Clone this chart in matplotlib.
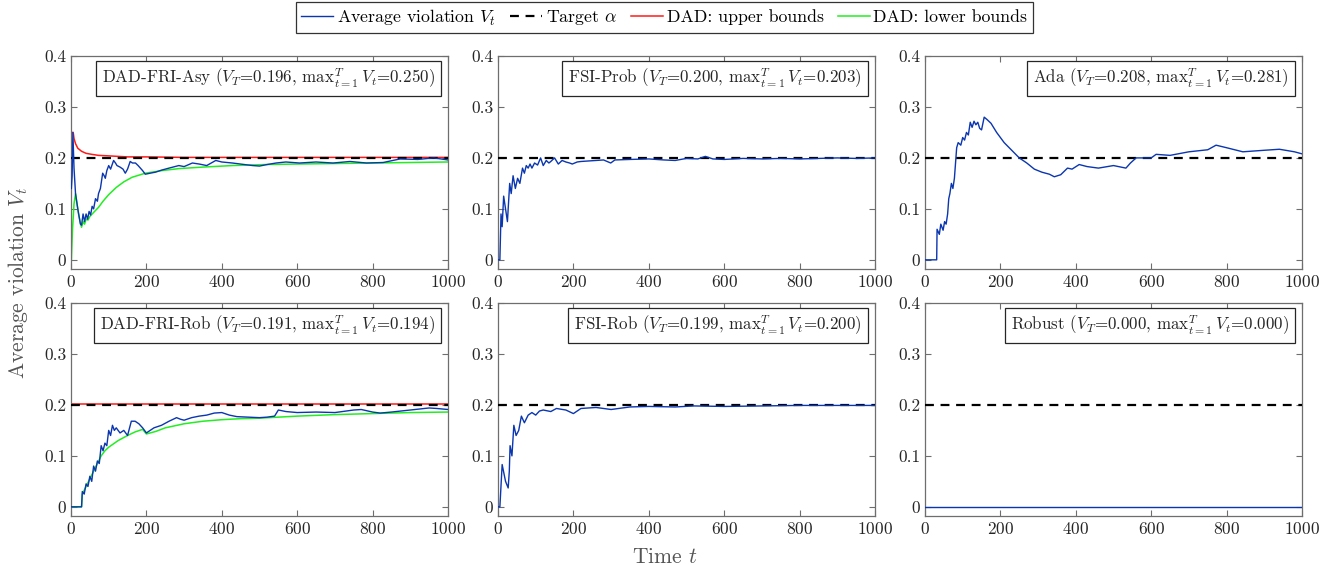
import matplotlib
matplotlib.use('Agg')
import matplotlib.pyplot as plt
from matplotlib.lines import Line2D

plt.rcParams['font.family'] = ['cmr10', 'DejaVu Serif']
plt.rcParams['mathtext.fontset'] = 'cm'
plt.rcParams['axes.formatter.use_mathtext'] = True

alpha = 0.2
names = ['DAD-FRI-Asy', 'FSI-Prob', 'Ada', 'DAD-FRI-Rob', 'FSI-Rob', 'Robust']
v_final = ['0.196', '0.200', '0.208', '0.191', '0.199', '0.000']
v_max = ['0.250', '0.203', '0.281', '0.194', '0.200', '0.000']

# DAD-FRI-Asy
asy_t = [1, 3, 5, 8, 12, 18, 25, 28, 32, 36, 40, 44, 48, 52, 56, 60, 65, 70, 73, 78, 84, 88, 91, 95,
         100, 105, 113, 118, 122, 130, 138, 144, 150, 157, 163, 171, 178, 184, 190, 197, 210, 224,
         240, 260, 286, 300, 322, 340, 360, 384, 400, 428, 460, 482, 500, 520, 544, 570, 606, 650,
         695, 740, 784, 828, 873, 920, 962, 1000]
asy_v = [0.14, 0.165, 0.25, 0.18, 0.13, 0.10, 0.07, 0.068, 0.09, 0.075, 0.09, 0.08, 0.095, 0.088,
         0.105, 0.10, 0.12, 0.115, 0.13, 0.14, 0.17, 0.165, 0.16, 0.175, 0.185, 0.178, 0.195, 0.19,
         0.185, 0.182, 0.178, 0.17, 0.178, 0.193, 0.19, 0.19, 0.185, 0.18, 0.175, 0.168, 0.17, 0.172,
         0.176, 0.18, 0.185, 0.183, 0.19, 0.188, 0.185, 0.195, 0.192, 0.19, 0.187, 0.185, 0.184,
         0.187, 0.19, 0.192, 0.19, 0.192, 0.19, 0.193, 0.19, 0.191, 0.198, 0.197, 0.2, 0.196]
asy_up_t = [5, 6, 8, 12, 18, 28, 40, 55, 73, 100, 150, 200, 300, 500, 1000]
asy_up_v = [0.25, 0.249, 0.238, 0.228, 0.219, 0.213, 0.209, 0.207, 0.205, 0.204, 0.202, 0.202,
            0.201, 0.201, 0.201]
asy_lo_t = [1, 4, 8, 12, 16, 20, 24, 28, 32, 36, 40, 45, 50, 60, 73, 85, 100, 120, 140, 162,
            197, 240, 286, 350, 428, 517, 600, 700, 800, 900, 1000]
asy_lo_v = [0.0, 0.06, 0.11, 0.13, 0.11, 0.09, 0.075, 0.064, 0.075, 0.07, 0.08, 0.078, 0.085,
            0.093, 0.103, 0.115, 0.128, 0.142, 0.153, 0.162, 0.17, 0.175, 0.179, 0.182, 0.185,
            0.187, 0.188, 0.189, 0.19, 0.191, 0.192]

# FSI-Prob
prob_t = [1, 5, 8, 11, 15, 20, 25, 31, 35, 40, 46, 52, 58, 65, 70, 75, 80, 85, 90, 97, 105, 113,
          120, 128, 135, 140, 150, 160, 170, 180, 190, 197, 210, 220, 240, 260, 280, 299, 310,
          350, 400, 440, 470, 500, 530, 550, 570, 600, 650, 700, 750, 800, 850, 900, 950, 1000]
prob_v = [0.0, 0.0, 0.09, 0.065, 0.125, 0.1, 0.075, 0.15, 0.13, 0.165, 0.14, 0.16, 0.15, 0.18,
          0.17, 0.185, 0.18, 0.188, 0.18, 0.19, 0.186, 0.2, 0.185, 0.195, 0.19, 0.193, 0.2, 0.188,
          0.195, 0.192, 0.19, 0.188, 0.192, 0.193, 0.194, 0.195, 0.196, 0.19, 0.196, 0.197, 0.198,
          0.196, 0.195, 0.199, 0.198, 0.203, 0.198, 0.197, 0.199, 0.198, 0.199, 0.198, 0.199,
          0.2, 0.199, 0.2]

# Ada
ada_t = [1, 31, 32, 38, 42, 48, 52, 56, 60, 63, 66, 70, 74, 78, 84, 88, 95, 100, 105, 110, 115,
         120, 125, 130, 135, 140, 145, 150, 157, 165, 175, 190, 210, 230, 250, 270, 290, 310, 330,
         343, 360, 378, 390, 409, 430, 460, 500, 533, 545, 560, 600, 613, 650, 700, 750, 772, 800,
         843, 900, 940, 980, 1000]
ada_v = [0.0, 0.0, 0.06, 0.05, 0.07, 0.058, 0.075, 0.07, 0.09, 0.12, 0.13, 0.15, 0.14, 0.16, 0.22,
         0.23, 0.225, 0.24, 0.235, 0.25, 0.245, 0.27, 0.26, 0.272, 0.265, 0.27, 0.258, 0.255, 0.28,
         0.275, 0.268, 0.25, 0.23, 0.215, 0.2, 0.19, 0.178, 0.172, 0.168, 0.163, 0.167, 0.18,
         0.178, 0.187, 0.183, 0.18, 0.185, 0.18, 0.19, 0.2, 0.2, 0.207, 0.205, 0.212, 0.216,
         0.225, 0.22, 0.212, 0.215, 0.217, 0.212, 0.208]

# DAD-FRI-Rob
rob_t = [1, 28, 30, 35, 40, 45, 50, 55, 60, 65, 70, 75, 80, 85, 90, 95, 100, 105, 110, 115, 120,
         130, 140, 150, 160, 170, 180, 190, 200, 210, 220, 240, 260, 280, 290, 300, 320, 340, 360,
         380, 400, 420, 440, 470, 500, 520, 540, 550, 570, 600, 650, 700, 750, 770, 800, 820, 850,
         900, 950, 970, 1000]
rob_v = [0.0, 0.0, 0.03, 0.025, 0.045, 0.04, 0.06, 0.05, 0.08, 0.07, 0.09, 0.085, 0.12, 0.11,
         0.125, 0.12, 0.15, 0.14, 0.16, 0.15, 0.155, 0.145, 0.15, 0.14, 0.168, 0.168, 0.163, 0.155,
         0.145, 0.15, 0.155, 0.16, 0.168, 0.175, 0.172, 0.17, 0.175, 0.178, 0.18, 0.184, 0.185,
         0.18, 0.177, 0.176, 0.175, 0.176, 0.178, 0.19, 0.187, 0.185, 0.186, 0.185, 0.19, 0.191,
         0.186, 0.184, 0.186, 0.19, 0.194, 0.193, 0.191]
rob_up_t = [1, 1000]
rob_up_v = [0.201, 0.201]
rob_lo_t = [1, 28, 30, 40, 50, 60, 70, 80, 90, 100, 125, 150, 170, 190, 200, 225, 250, 300, 350,
            400, 450, 500, 600, 700, 800, 900, 1000]
rob_lo_v = [0.0, 0.0, 0.025, 0.04, 0.055, 0.07, 0.085, 0.1, 0.11, 0.117, 0.13, 0.14, 0.147,
            0.152, 0.143, 0.148, 0.155, 0.163, 0.168, 0.171, 0.173, 0.174, 0.178, 0.181, 0.183,
            0.185, 0.186]

# FSI-Rob
fsir_t = [1, 5, 11, 20, 27, 30, 32, 37, 42, 48, 55, 62, 70, 80, 90, 100, 110, 120, 140, 155, 180,
          200, 220, 260, 300, 350, 400, 470, 520, 600, 700, 800, 900, 1000]
fsir_v = [0.0, 0.0, 0.083, 0.05, 0.037, 0.07, 0.12, 0.1, 0.16, 0.14, 0.15, 0.178, 0.165, 0.18,
          0.185, 0.18, 0.188, 0.19, 0.187, 0.193, 0.19, 0.183, 0.193, 0.195, 0.191, 0.196, 0.197,
          0.196, 0.198, 0.197, 0.198, 0.199, 0.199, 0.199]

# Robust
robust_t = [1, 1000]
robust_v = [0.0, 0.0]

series = [(asy_t, asy_v), (prob_t, prob_v), (ada_t, ada_v),
          (rob_t, rob_v), (fsir_t, fsir_v), (robust_t, robust_v)]
bounds = {0: (asy_up_t, asy_up_v, asy_lo_t, asy_lo_v),
          3: (rob_up_t, rob_up_v, rob_lo_t, rob_lo_v)}

blue = '#0a36b0'
red = '#ff1a1a'
green = '#22ee22'
frame = '#6e6e6e'
txt = '#262626'

fig = plt.figure(figsize=(13.3, 5.66), dpi=100)
lefts = [71, 498, 925]
tops = [56, 303]
w, h = 377, 213

for i, (t, v) in enumerate(series):
    r, c = divmod(i, 3)
    ax = fig.add_axes([lefts[c] / 1330, 1 - (tops[r] + h) / 566, w / 1330, h / 566])
    if i in bounds:
        ut, uv, lt, lv = bounds[i]
        ax.plot(ut, uv, color=red, lw=1.1, zorder=2)
        ax.plot(lt, lv, color=green, lw=1.1, zorder=2)
    ax.plot([0, 1000], [alpha, alpha], color='k', ls=(0, (4, 3)), lw=1.6, zorder=3)
    ax.plot(t, v, color=blue, lw=1.0, zorder=4)
    ax.set_xlim(0, 1000)
    ax.set_ylim(-0.018, 0.4)
    ax.set_xticks([0, 200, 400, 600, 800, 1000])
    ax.set_yticks([0, 0.1, 0.2, 0.3, 0.4])
    ax.set_yticklabels(['0', '0.1', '0.2', '0.3', '0.4'])
    ax.tick_params(direction='in', top=True, right=True, length=4, width=0.8,
                   color=frame, labelcolor=txt, labelsize=12.5)
    for s in ax.spines.values():
        s.set_color(frame)
        s.set_linewidth(0.9)
    label = (names[i] + r' ($V_T$=' + v_final[i] + r', $\mathrm{max}_{t=1}^{T}\,V_t$='
             + v_max[i] + ')')
    ax.text(0.965, 0.95, label, transform=ax.transAxes, ha='right', va='top', fontsize=12.2,
            color=txt, bbox=dict(boxstyle='square,pad=0.35', fc='white', ec=txt, lw=0.9))

fig.text(18 / 1330, 0.5, r'Average violation $V_t$', rotation=90, ha='center', va='center',
         fontsize=15.5, color='#555555')
fig.text(0.5, 1 - 557 / 566, r'Time $t$', ha='center', va='center', fontsize=15.5,
         color='#555555')

handles = [Line2D([], [], color=blue, lw=1.0),
           Line2D([], [], color='k', ls=(0, (4, 3)), lw=1.6),
           Line2D([], [], color=red, lw=1.1),
           Line2D([], [], color=green, lw=1.1)]
labels = [r'Average violation $V_t$', r'Target $\alpha$', 'DAD: upper bounds',
          'DAD: lower bounds']
leg = fig.legend(handles, labels, loc='center', bbox_to_anchor=(0.4995, 1 - 17.5 / 566), ncol=4,
                 fontsize=12.8, frameon=True, fancybox=False, edgecolor='k', handlelength=1.8,
                 handletextpad=0.2, columnspacing=0.8, borderpad=0.3)
leg.get_frame().set_linewidth(0.9)

plt.savefig('out.png', dpi=100)
